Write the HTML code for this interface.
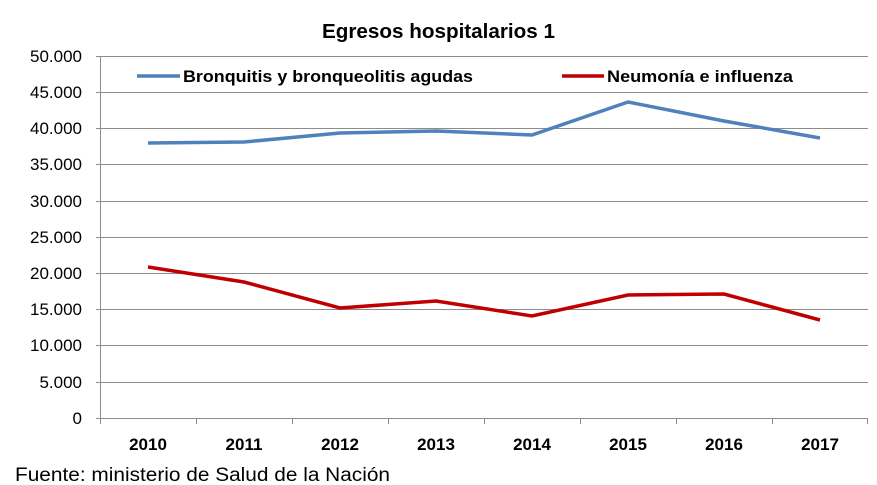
<!DOCTYPE html>
<html><head><meta charset="utf-8"><style>
body{margin:0;background:#fff;}
svg{display:block;font-family:"Liberation Sans",sans-serif;}
</style></head><body>
<svg width="877" height="485" viewBox="0 0 877 485">
<rect width="877" height="485" fill="#fff"/>
<g stroke="#8c8c8c" stroke-width="1">
<line x1="96" y1="56.5" x2="868" y2="56.5"/>
<line x1="96" y1="92.5" x2="868" y2="92.5"/>
<line x1="96" y1="128.5" x2="868" y2="128.5"/>
<line x1="96" y1="164.5" x2="868" y2="164.5"/>
<line x1="96" y1="201.5" x2="868" y2="201.5"/>
<line x1="96" y1="237.5" x2="868" y2="237.5"/>
<line x1="96" y1="273.5" x2="868" y2="273.5"/>
<line x1="96" y1="309.5" x2="868" y2="309.5"/>
<line x1="96" y1="345.5" x2="868" y2="345.5"/>
<line x1="96" y1="382.5" x2="868" y2="382.5"/>
<line x1="96" y1="418.5" x2="868" y2="418.5"/>
<line x1="100.5" y1="56" x2="100.5" y2="424"/>
<line x1="196.5" y1="418" x2="196.5" y2="424"/>
<line x1="292.5" y1="418" x2="292.5" y2="424"/>
<line x1="388.5" y1="418" x2="388.5" y2="424"/>
<line x1="484.5" y1="418" x2="484.5" y2="424"/>
<line x1="580.5" y1="418" x2="580.5" y2="424"/>
<line x1="676.5" y1="418" x2="676.5" y2="424"/>
<line x1="772.5" y1="418" x2="772.5" y2="424"/>
<line x1="867.5" y1="418" x2="867.5" y2="424"/>
</g>
<g font-size="17" text-anchor="end" fill="#000">
<text x="82" y="62">50.000</text><text x="82" y="98">45.000</text><text x="82" y="134">40.000</text>
<text x="82" y="170">35.000</text><text x="82" y="207">30.000</text><text x="82" y="243">25.000</text>
<text x="82" y="279">20.000</text><text x="82" y="315">15.000</text><text x="82" y="351">10.000</text>
<text x="82" y="388">5.000</text><text x="82" y="424">0</text>
</g>
<g font-size="17" font-weight="bold" text-anchor="middle">
<text x="148" y="450">2010</text><text x="244" y="450">2011</text><text x="340" y="450">2012</text>
<text x="436" y="450">2013</text><text x="532" y="450">2014</text><text x="628" y="450">2015</text>
<text x="724" y="450">2016</text><text x="820" y="450">2017</text>
</g>
<text x="322" y="38" font-size="20" font-weight="bold" textLength="233" lengthAdjust="spacingAndGlyphs">Egresos hospitalarios  1</text>
<polyline fill="none" stroke="#4f81bd" stroke-width="3.5" points="148,143 244,142 340,133 436,131 532,135 628,102 724,121 820,138"/>
<polyline fill="none" stroke="#c00000" stroke-width="3.5" points="148,267 244,282 340,308 436,301 532,316 628,295 724,294 820,320"/>
<line x1="137" y1="76" x2="180" y2="76" stroke="#4f81bd" stroke-width="3.5"/>
<text x="183" y="82" font-size="17" font-weight="bold" textLength="290" lengthAdjust="spacingAndGlyphs">Bronquitis y bronqueolitis agudas</text>
<line x1="562" y1="76" x2="604" y2="76" stroke="#c00000" stroke-width="3.5"/>
<text x="607" y="82" font-size="17" font-weight="bold" textLength="186" lengthAdjust="spacingAndGlyphs">Neumonía e influenza</text>
<text x="15" y="481" font-size="19" textLength="375" lengthAdjust="spacingAndGlyphs">Fuente: ministerio de Salud de la Nación</text>
</svg>
</body></html>
